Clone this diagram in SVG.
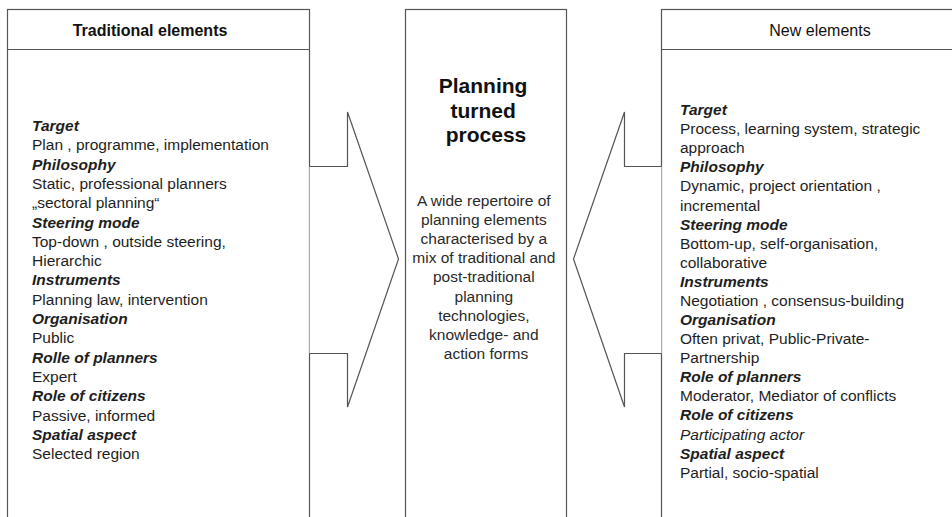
<svg xmlns="http://www.w3.org/2000/svg" width="952" height="517" viewBox="0 0 952 517">
  <style>
    .box { fill: #ffffff; stroke: #555555; stroke-width: 1.2; }
    .rule { stroke: #555555; stroke-width: 1.2; fill: none; }
    .arrow { fill: #ffffff; stroke: #555555; stroke-width: 1.2; stroke-linejoin: miter; }
    text { font-family: "Liberation Sans", Arial, sans-serif; fill: #1e1e1e; }
    .head { font-size: 16px; fill: #111111; }
    .body { font-size: 15.5px; }
    .cat { font-weight: bold; font-style: italic; }
    .it { font-style: italic; }
    .title { font-size: 21px; font-weight: bold; fill: #111111; }
    .mid { font-size: 15.5px; fill: #2a2a2a; }
  </style>

  <!-- left column: traditional elements -->
  <g id="traditional">
    <rect class="box" x="7.5" y="9.5" width="302" height="520"/>
    <line class="rule" x1="7.5" y1="49.5" x2="309.5" y2="49.5"/>
    <text class="head" x="150" y="36" text-anchor="middle" font-weight="bold">Traditional elements</text>
    <text class="body">
      <tspan class="cat" x="32" y="131">Target</tspan>
      <tspan x="32" y="150.3">Plan , programme, implementation</tspan>
      <tspan class="cat" x="32" y="169.6">Philosophy</tspan>
      <tspan x="32" y="188.9">Static, professional planners</tspan>
      <tspan x="32" y="208.2">„sectoral planning“</tspan>
      <tspan class="cat" x="32" y="227.5">Steering mode</tspan>
      <tspan x="32" y="246.8">Top-down , outside steering,</tspan>
      <tspan x="32" y="266.1">Hierarchic</tspan>
      <tspan class="cat" x="32" y="285.4">Instruments</tspan>
      <tspan x="32" y="304.7">Planning law, intervention</tspan>
      <tspan class="cat" x="32" y="324">Organisation</tspan>
      <tspan x="32" y="343.3">Public</tspan>
      <tspan class="cat" x="32" y="362.6">Rolle of planners</tspan>
      <tspan x="32" y="381.9">Expert</tspan>
      <tspan class="cat" x="32" y="401.2">Role of citizens</tspan>
      <tspan x="32" y="420.5">Passive, informed</tspan>
      <tspan class="cat" x="32" y="439.8">Spatial aspect</tspan>
      <tspan x="32" y="459.1">Selected region</tspan>
    </text>
  </g>

  <!-- centre column -->
  <g id="process">
    <rect class="box" x="405.5" y="9.5" width="161" height="520"/>
    <text class="title" text-anchor="middle">
      <tspan x="486" y="93">Planning</tspan>
      <tspan x="486" y="117.5">turned</tspan>
      <tspan x="486" y="142">process</tspan>
    </text>
    <text class="mid" text-anchor="middle">
      <tspan x="486" y="206">A wide repertoire of</tspan>
      <tspan x="486" y="225.1">planning elements</tspan>
      <tspan x="486" y="244.2">characterised by a</tspan>
      <tspan x="486" y="263.3">mix of traditional and</tspan>
      <tspan x="486" y="282.4">post-traditional</tspan>
      <tspan x="486" y="301.5">planning</tspan>
      <tspan x="486" y="320.6">technologies,</tspan>
      <tspan x="486" y="339.7">knowledge- and</tspan>
      <tspan x="486" y="358.8">action forms</tspan>
    </text>
  </g>

  <!-- right column: new elements -->
  <g id="new">
    <rect class="box" x="661.5" y="9.5" width="320" height="520"/>
    <line class="rule" x1="661.5" y1="49.5" x2="981.5" y2="49.5"/>
    <text class="head" x="820" y="36" text-anchor="middle">New elements</text>
    <text class="body">
      <tspan class="cat" x="680" y="115">Target</tspan>
      <tspan x="680" y="134.1">Process, learning system, strategic</tspan>
      <tspan x="680" y="153.2">approach</tspan>
      <tspan class="cat" x="680" y="172.3">Philosophy</tspan>
      <tspan x="680" y="191.4">Dynamic, project orientation ,</tspan>
      <tspan x="680" y="210.5">incremental</tspan>
      <tspan class="cat" x="680" y="229.5">Steering mode</tspan>
      <tspan x="680" y="248.6">Bottom-up, self-organisation,</tspan>
      <tspan x="680" y="267.7">collaborative</tspan>
      <tspan class="cat" x="680" y="286.8">Instruments</tspan>
      <tspan x="680" y="305.9">Negotiation , consensus-building</tspan>
      <tspan class="cat" x="680" y="325">Organisation</tspan>
      <tspan x="680" y="344.1">Often privat, Public-Private-</tspan>
      <tspan x="680" y="363.2">Partnership</tspan>
      <tspan class="cat" x="680" y="382.3">Role of planners</tspan>
      <tspan x="680" y="401.4">Moderator, Mediator of conflicts</tspan>
      <tspan class="cat" x="680" y="420.4">Role of citizens</tspan>
      <tspan class="it" x="680" y="439.5">Participating actor</tspan>
      <tspan class="cat" x="680" y="458.6">Spatial aspect</tspan>
      <tspan x="680" y="477.7">Partial, socio-spatial</tspan>
    </text>
  </g>

  <!-- block arrows pointing into the centre column -->
  <g id="connectors">
    <path class="arrow" d="M309.5,166.5 H347.5 V112 L398.5,259 L347.5,407 V353.5 H309.5"/>
    <path class="arrow" d="M661.5,166.5 H624.5 V112 L573.5,259 L624.5,407 V353.5 H661.5"/>
  </g>
</svg>
